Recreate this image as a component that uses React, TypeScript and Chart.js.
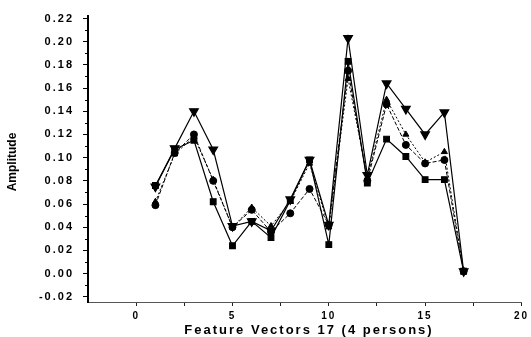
import React, { useEffect, useRef } from 'react';
import { Chart, registerables } from 'chart.js';

Chart.register(...registerables);

const xValues = [1, 2, 3, 4, 5, 6, 7, 8, 9, 10, 11, 12, 13, 14, 15, 16, 17];
const person1 = [0.075, 0.108, 0.140, 0.107, 0.041, 0.045, 0.037, 0.064, 0.098, 0.042, 0.203, 0.085, 0.164, 0.142, 0.120, 0.139, 0.002];
const person2 = [0.059, 0.104, 0.120, 0.080, 0.040, 0.055, 0.036, 0.052, 0.073, 0.042, 0.175, 0.080, 0.146, 0.111, 0.095, 0.098, 0.002];
const person3 = [0.076, 0.107, 0.115, 0.062, 0.024, 0.045, 0.031, 0.063, 0.098, 0.025, 0.183, 0.078, 0.116, 0.101, 0.081, 0.081, 0.002];
const person4 = [0.062, 0.103, 0.118, 0.081, 0.040, 0.057, 0.041, 0.062, 0.095, 0.040, 0.168, 0.083, 0.150, 0.120, 0.096, 0.105, 0.002];

const xTitle = 'Feature Vectors 17 (4 persons)';
const yTitle = 'Amplitude';

const toPoints = (ys: number[]) => ys.map((y, i) => ({ x: xValues[i], y }));

export default function App() {
  const ref = useRef<HTMLCanvasElement | null>(null);

  useEffect(() => {
    if (!ref.current) return;
    const extras = {
      id: 'extras',
      beforeDraw(chart: any) {
        (chart.ctx as any).letterSpacing = '2px';
      },
      afterDraw(chart: any) {
        const ctx = chart.ctx;
        const ys = chart.scales.y;
        const left = chart.chartArea.left;
        ctx.save();
        ctx.strokeStyle = '#000';
        ctx.lineWidth = 1;
        for (let k = -1; k <= 21; k += 2) {
          const py = Math.round(ys.getPixelForValue(k / 100)) + 0.5;
          ctx.beginPath();
          ctx.moveTo(left - 3, py);
          ctx.lineTo(left, py);
          ctx.stroke();
        }
        ctx.fillStyle = '#000';
        (ctx as any).letterSpacing = '2px';
        ctx.font = 'bold 13px "Liberation Sans", Arial, sans-serif';
        ctx.textAlign = 'center';
        ctx.textBaseline = 'middle';
        ctx.fillText(xTitle, 309, 330);
        (ctx as any).letterSpacing = '0px';
        ctx.translate(13, 162);
        ctx.rotate(-Math.PI / 2);
        ctx.font = 'bold 12px "Liberation Sans Narrow", "Liberation Sans", Arial, sans-serif';
        ctx.fillText(yTitle, 0, 0);
        ctx.restore();
      },
    };

    const common = {
      borderColor: '#000',
      backgroundColor: '#000',
      pointBackgroundColor: '#000',
      pointBorderColor: '#000',
      borderWidth: 1.2,
      tension: 0,
    };

    const chart = new Chart(ref.current, {
      type: 'line',
      data: {
        datasets: [
          { ...common, label: 'P1', data: toPoints(person1), pointStyle: 'triangle', pointRotation: 180, pointRadius: 5 },
          { ...common, label: 'P2', data: toPoints(person2), pointStyle: 'circle', pointRadius: 3.5, borderDash: [4, 2], borderWidth: 1 },
          { ...common, label: 'P3', data: toPoints(person3), pointStyle: 'rect', pointRadius: 4 },
          { ...common, label: 'P4', data: toPoints(person4), pointStyle: 'triangle', pointRadius: 3.5, borderDash: [2, 2], borderWidth: 1 },
        ],
      },
      options: {
        animation: false,
        responsive: false,
        parsing: false as any,
        layout: { padding: { top: 12, right: 9, bottom: 0, left: 0 } },
        plugins: { legend: { display: false }, tooltip: { enabled: false } },
        scales: {
          x: {
            type: 'linear',
            min: -2.5,
            max: 20,
            afterFit: (s: any) => { s.height = 35; },
            afterBuildTicks: (s: any) => { s.ticks = s.ticks.filter((t: any) => t.value >= 0); },
            border: { display: true, color: '#555', width: 1, dash: [2, 2] },
            grid: { drawOnChartArea: false, drawTicks: true, tickLength: 4, color: '#222' },
            ticks: {
              stepSize: 2.5,
              autoSkip: false,
              maxRotation: 0,
              padding: 4,
              color: '#000',
              font: { family: '"Liberation Sans", Arial, sans-serif', size: 10, weight: 'bold' },
              callback: (v: any) => (Number(v) % 5 === 0 ? String(v) : ''),
            },
          },
          y: {
            type: 'linear',
            min: -0.0245,
            max: 0.2225,
            afterFit: (s: any) => { s.width = 88; },
            border: { display: true, color: '#000', width: 2 },
            grid: { drawOnChartArea: false, drawTicks: true, tickLength: 5, color: '#000' },
            ticks: {
              stepSize: 0.02,
              includeBounds: false,
              autoSkip: false,
              padding: 9,
              color: '#000',
              font: { family: '"Liberation Sans", Arial, sans-serif', size: 11, weight: 'bold' },
              callback: (v: any) => Number(v).toFixed(2),
            },
          },
        },
      },
      plugins: [extras],
    });
    return () => chart.destroy();
  }, []);

  return (
    <div style={{ position: 'absolute', left: 0, top: 0, width: 531, height: 337, background: '#fff' }}>
      <canvas ref={ref} width={531} height={337} style={{ width: 531, height: 337, display: 'block' }} />
    </div>
  );
}
